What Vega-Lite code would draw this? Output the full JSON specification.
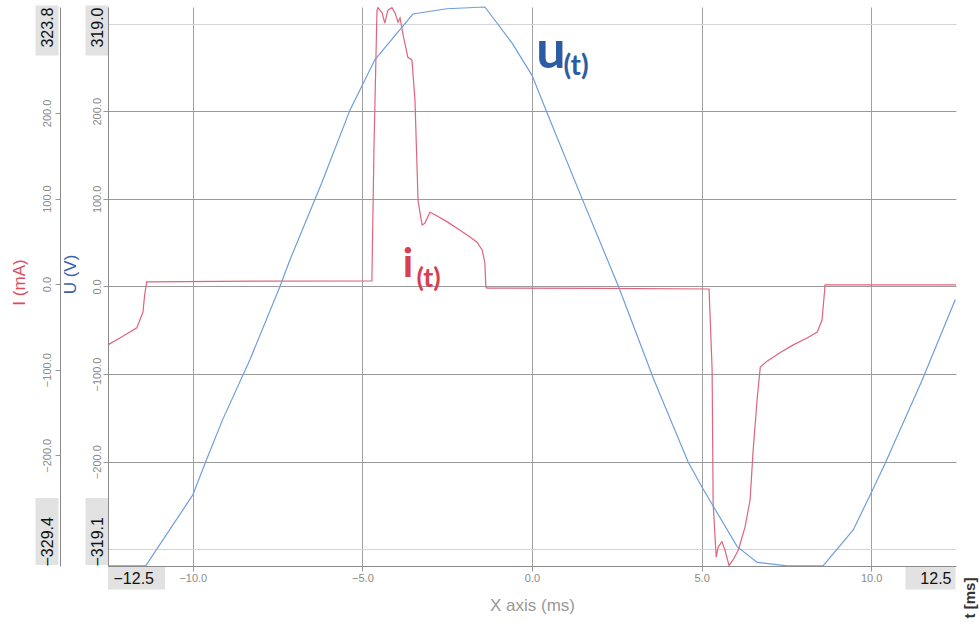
{
  "$schema": "https://vega.github.io/schema/vega-lite/v6.json",
  "width": 848,
  "height": 559,
  "autosize": {"type": "none"},
  "padding": {"left": 108, "top": 7, "right": 23, "bottom": 56},
  "background": "white",
  "config": {
    "view": {"stroke": null},
    "font": "Liberation Sans",
    "axis": {"labelFont": "Liberation Sans", "titleFont": "Liberation Sans"}
  },
  "datasets": {
    "u": [
      {"t": -12.5, "v": -319}, {"t": -11.39, "v": -319}, {"t": -10.0, "v": -238}, {"t": -9.62, "v": -200},
      {"t": -9.12, "v": -152}, {"t": -8.32, "v": -84}, {"t": -7.43, "v": 0}, {"t": -7.14, "v": 30},
      {"t": -6.2, "v": 118}, {"t": -5.37, "v": 201}, {"t": -4.63, "v": 259}, {"t": -3.83, "v": 296},
      {"t": -3.51, "v": 311}, {"t": -2.51, "v": 317}, {"t": -1.39, "v": 319}, {"t": -0.59, "v": 278},
      {"t": 0, "v": 241}, {"t": 0.53, "v": 190}, {"t": 1.48, "v": 100}, {"t": 2.55, "v": 0},
      {"t": 3.6, "v": -107}, {"t": 4.6, "v": -200}, {"t": 5.01, "v": -229}, {"t": 6.05, "v": -297},
      {"t": 6.64, "v": -315}, {"t": 7.52, "v": -319}, {"t": 8.58, "v": -319}, {"t": 9.47, "v": -278},
      {"t": 9.97, "v": -238}, {"t": 10.41, "v": -202}, {"t": 11.5, "v": -107}, {"t": 12.48, "v": -15}
    ],
    "i": [
      {"t": -12.5, "v": -71}, {"t": -12.15, "v": -63}, {"t": -11.65, "v": -51}, {"t": -11.47, "v": -33},
      {"t": -11.42, "v": -13}, {"t": -11.36, "v": 2.5}, {"t": -8.0, "v": 3.5}, {"t": -4.72, "v": 3.6},
      {"t": -4.66, "v": 157}, {"t": -4.57, "v": 320}, {"t": -4.54, "v": 323}, {"t": -4.42, "v": 317},
      {"t": -4.34, "v": 305}, {"t": -4.25, "v": 320}, {"t": -4.13, "v": 323}, {"t": -4.04, "v": 317},
      {"t": -3.95, "v": 306}, {"t": -3.89, "v": 311}, {"t": -3.81, "v": 293}, {"t": -3.66, "v": 265},
      {"t": -3.54, "v": 262}, {"t": -3.45, "v": 215}, {"t": -3.36, "v": 98}, {"t": -3.3, "v": 83},
      {"t": -3.24, "v": 69}, {"t": -3.16, "v": 71}, {"t": -3.01, "v": 84}, {"t": -2.86, "v": 81},
      {"t": -2.51, "v": 73}, {"t": -2.12, "v": 63}, {"t": -1.83, "v": 55}, {"t": -1.62, "v": 49},
      {"t": -1.47, "v": 40}, {"t": -1.39, "v": 25}, {"t": -1.36, "v": -3.4}, {"t": -1.33, "v": -4.6},
      {"t": 2.0, "v": -5}, {"t": 5.22, "v": -5.7}, {"t": 5.31, "v": -100}, {"t": 5.34, "v": -256},
      {"t": 5.43, "v": -319}, {"t": 5.49, "v": -307}, {"t": 5.6, "v": -301}, {"t": 5.69, "v": -311},
      {"t": 5.81, "v": -329}, {"t": 5.93, "v": -322}, {"t": 6.08, "v": -311}, {"t": 6.28, "v": -284},
      {"t": 6.43, "v": -252}, {"t": 6.52, "v": -194}, {"t": 6.64, "v": -133}, {"t": 6.73, "v": -97},
      {"t": 6.93, "v": -90}, {"t": 7.32, "v": -80}, {"t": 7.7, "v": -71}, {"t": 8.11, "v": -63},
      {"t": 8.41, "v": -56}, {"t": 8.55, "v": -42}, {"t": 8.61, "v": -15}, {"t": 8.64, "v": -1},
      {"t": 10.5, "v": -1}, {"t": 12.5, "v": -1}
    ]
  },
  "layer": [
    {
      "layer": [
        {
          "data": {"name": "i"},
          "mark": {"type": "line", "color": "#e0647c", "strokeWidth": 1.2},
          "encoding": {
            "x": {"field": "t", "type": "quantitative", "scale": {"domain": [-12.5, 12.5], "nice": false, "zero": false}, "axis": null},
            "y": {
              "field": "v", "type": "quantitative",
              "scale": {"domain": [-329.4, 323.8], "nice": false, "zero": false},
              "axis": {
                "orient": "left", "offset": 48, "zindex": 1,
                "values": [-329.4, -200, -100, 0, 100, 200, 323.8],
                "labelExpr": "format(datum.value, '.1f')",
                "labelAngle": -90,
                "labelBaseline": "middle",
                "labelAlign": {"condition": [{"test": "datum.value > 300", "value": "right"}, {"test": "datum.value < -300", "value": "left"}], "value": "center"},
                "labelFontSize": {"condition": {"test": "abs(datum.value) > 300", "value": 16}, "value": 11},
                "labelColor": {"condition": {"test": "abs(datum.value) > 300", "value": "#111111"}, "value": "#8a8a8a"},
                "labelPadding": 8,
                "tickSize": 5, "tickColor": "#999999",
                "tickOpacity": {"condition": {"test": "abs(datum.value) > 300", "value": 0}, "value": 1},
                "domainColor": "#8a8a8a",
                "grid": false,
                "title": "I (mA)", "titleColor": "#e04a5a", "titleFontSize": 17, "titleFontWeight": "normal",
                "titleX": -41, "titleY": 275, "titleBaseline": "middle", "titleAngle": 270
              }
            }
          }
        },
        {
          "data": {"name": "i"},
          "mark": {"type": "point", "opacity": 0},
          "encoding": {
            "x": {"field": "t", "type": "quantitative", "scale": {"domain": [-12.5, 12.5], "nice": false, "zero": false}, "axis": null},
            "y": {
              "field": "v", "type": "quantitative",
              "scale": {"domain": [-329.4, 323.8], "nice": false, "zero": false},
              "axis": {
                "orient": "left", "offset": 50, "zindex": 0,
                "values": [297, -288.5],
                "labels": false, "domain": false, "title": null, "grid": false,
                "tickSize": 23, "tickColor": "#e2e2e2",
                "tickWidth": {"condition": {"test": "datum.value > 0", "value": 50}, "value": 67}
              }
            }
          }
        },
        {
          "data": {"values": [{"t": -3.66, "v": 8.3, "label": "i"}]},
          "mark": {"type": "text", "font": "Lato", "fontWeight": "bold", "fontSize": 41, "color": "#d8404f", "align": "center", "baseline": "alphabetic"},
          "encoding": {
            "x": {"field": "t", "type": "quantitative", "scale": {"domain": [-12.5, 12.5], "nice": false, "zero": false}, "axis": null},
            "y": {"field": "v", "type": "quantitative", "scale": {"domain": [-329.4, 323.8], "nice": false, "zero": false}, "axis": null},
            "text": {"field": "label"}
          }
        },
        {
          "data": {"values": [{"t": -3.05, "v": -3.4, "label": "(t)"}]},
          "mark": {"type": "text", "font": "Lato", "fontWeight": "bold", "fontSize": 27, "color": "#d8404f", "align": "center", "baseline": "alphabetic"},
          "encoding": {
            "x": {"field": "t", "type": "quantitative", "scale": {"domain": [-12.5, 12.5], "nice": false, "zero": false}, "axis": null},
            "y": {"field": "v", "type": "quantitative", "scale": {"domain": [-329.4, 323.8], "nice": false, "zero": false}, "axis": null},
            "text": {"field": "label"}
          }
        }
      ],
      "resolve": {"axis": {"y": "independent"}}
    },
    {
      "layer": [
        {
          "data": {"name": "u"},
          "mark": {"type": "line", "color": "#6f9fd8", "strokeWidth": 1.2},
          "encoding": {
            "x": {
              "field": "t", "type": "quantitative",
              "scale": {"domain": [-12.5, 12.5], "nice": false, "zero": false},
              "axis": {
                "orient": "bottom", "zindex": 1,
                "values": [-12.5, -10, -5, 0, 5, 10, 12.5],
                "labelExpr": "format(datum.value, '.1f')",
                "labelBaseline": "middle", "labelPadding": 7,
                "labelAlign": {"condition": [{"test": "datum.value < -12", "value": "left"}, {"test": "datum.value > 12", "value": "right"}], "value": "center"},
                "labelOffset": {"condition": [{"test": "datum.value < -12", "value": 5}, {"test": "datum.value > 12", "value": -5}], "value": 0},
                "labelFontSize": {"condition": {"test": "abs(datum.value) > 12", "value": 16}, "value": 11},
                "labelColor": {"condition": {"test": "abs(datum.value) > 12", "value": "#111111"}, "value": "#8a8a8a"},
                "tickSize": 5, "tickColor": "#999999",
                "tickOpacity": {"condition": {"test": "abs(datum.value) > 12", "value": 0}, "value": 1},
                "domainColor": "#8a8a8a",
                "grid": false,
                "title": "X axis (ms)", "titleColor": "#999999", "titleFontSize": 17, "titleFontWeight": "normal",
                "titleY": 39, "titleBaseline": "middle"
              }
            },
            "y": {
              "field": "v", "type": "quantitative",
              "scale": {"domain": [-319.1, 319.0], "nice": false, "zero": false},
              "axis": {
                "orient": "left", "offset": 0, "zindex": 1,
                "values": [-319.1, -200, -100, 0, 100, 200, 319.0],
                "labelExpr": "format(datum.value, '.1f')",
                "labelAngle": -90,
                "labelBaseline": "middle",
                "labelAlign": {"condition": [{"test": "datum.value > 300", "value": "right"}, {"test": "datum.value < -300", "value": "left"}], "value": "center"},
                "labelFontSize": {"condition": {"test": "abs(datum.value) > 300", "value": 16}, "value": 11},
                "labelColor": {"condition": {"test": "abs(datum.value) > 300", "value": "#111111"}, "value": "#8a8a8a"},
                "labelPadding": 6,
                "tickSize": 5, "tickColor": "#999999",
                "tickOpacity": {"condition": {"test": "abs(datum.value) > 300", "value": 0}, "value": 1},
                "domainColor": "#8a8a8a",
                "grid": false,
                "title": "U (V)", "titleColor": "#3a62b0", "titleFontSize": 17, "titleFontWeight": "normal",
                "titleX": -38, "titleY": 267, "titleBaseline": "middle", "titleAngle": 270
              }
            }
          }
        },
        {
          "data": {"name": "u"},
          "mark": {"type": "point", "opacity": 0},
          "encoding": {
            "x": {
              "field": "t", "type": "quantitative",
              "scale": {"domain": [-12.5, 12.5], "nice": false, "zero": false},
              "axis": {
                "orient": "bottom", "zindex": 0,
                "values": [-11.68, 11.74, -10, -5, 0, 5, 10],
                "labels": false, "domain": false, "title": null,
                "tickSize": 23, "tickColor": "#e2e2e2",
                "tickWidth": {"condition": {"test": "datum.value < -11", "value": 57}, "value": 50},
                "tickOpacity": {"condition": {"test": "abs(datum.value) > 11", "value": 1}, "value": 0},
                "grid": true, "gridColor": "#a0a0a0",
                "gridOpacity": {"condition": {"test": "abs(datum.value) > 11", "value": 0}, "value": 1}
              }
            },
            "y": {
              "field": "v", "type": "quantitative",
              "scale": {"domain": [-319.1, 319.0], "nice": false, "zero": false},
              "axis": {
                "orient": "left", "offset": 0, "zindex": 0,
                "values": [292.8, -279, -300, -200, -100, 0, 100, 200, 300],
                "labels": false, "domain": false, "title": null,
                "tickSize": 23, "tickColor": "#e2e2e2",
                "tickWidth": {"condition": {"test": "datum.value > 290", "value": 50}, "value": 67},
                "tickOpacity": {"condition": {"test": "datum.value == 292.8 || datum.value == -279", "value": 1}, "value": 0},
                "grid": true,
                "gridColor": {"condition": {"test": "abs(datum.value) == 300", "value": "#d4d4d4"}, "value": "#9a9a9a"},
                "gridOpacity": {"condition": {"test": "datum.value == 292.8 || datum.value == -279", "value": 0}, "value": 1}
              }
            }
          }
        },
        {
          "data": {"values": [{"t": 0.56, "v": 249, "label": "u"}]},
          "mark": {"type": "text", "font": "Lato", "fontWeight": "bold", "fontSize": 52, "color": "#2d5ca6", "align": "center", "baseline": "alphabetic"},
          "encoding": {
            "x": {"field": "t", "type": "quantitative", "scale": {"domain": [-12.5, 12.5], "nice": false, "zero": false}, "axis": null},
            "y": {"field": "v", "type": "quantitative", "scale": {"domain": [-319.1, 319.0], "nice": false, "zero": false}, "axis": null},
            "text": {"field": "label"}
          }
        },
        {
          "data": {"values": [{"t": 1.3, "v": 241, "label": "(t)"}]},
          "mark": {"type": "text", "font": "Lato", "fontWeight": "bold", "fontSize": 28, "color": "#2d5ca6", "align": "center", "baseline": "alphabetic"},
          "encoding": {
            "x": {"field": "t", "type": "quantitative", "scale": {"domain": [-12.5, 12.5], "nice": false, "zero": false}, "axis": null},
            "y": {"field": "v", "type": "quantitative", "scale": {"domain": [-319.1, 319.0], "nice": false, "zero": false}, "axis": null},
            "text": {"field": "label"}
          }
        },
        {
          "data": {"values": [{"t": 12.5, "v": -319.1, "label": "t [ms]"}]},
          "mark": {"type": "text", "font": "Liberation Sans", "fontWeight": "bold", "fontSize": 15, "color": "#333333", "align": "center", "baseline": "middle", "angle": 270, "dx": -32, "dy": 14},
          "encoding": {
            "x": {"field": "t", "type": "quantitative", "scale": {"domain": [-12.5, 12.5], "nice": false, "zero": false}, "axis": null},
            "y": {"field": "v", "type": "quantitative", "scale": {"domain": [-319.1, 319.0], "nice": false, "zero": false}, "axis": null},
            "text": {"field": "label"}
          }
        }
      ],
      "resolve": {"axis": {"x": "independent", "y": "independent"}}
    }
  ],
  "resolve": {"scale": {"y": "independent"}}
}
